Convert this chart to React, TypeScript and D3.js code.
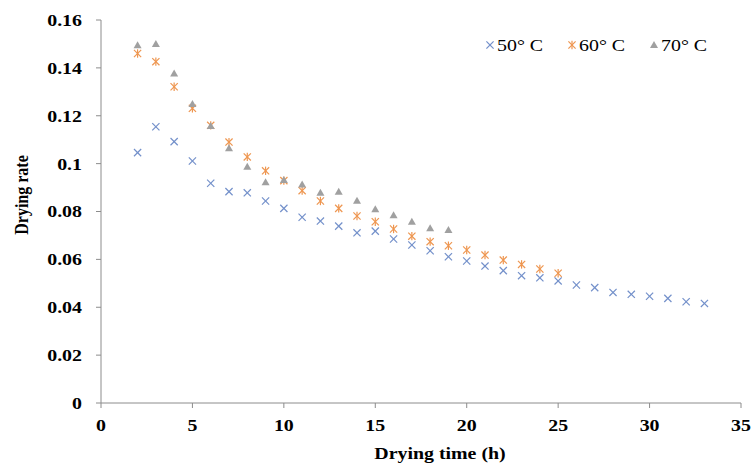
import React from "react";
import * as d3 from "d3";

const times50 = d3.range(2, 34);
const rate50 = [0.1046, 0.1154, 0.1092, 0.1011, 0.0918, 0.0883, 0.0878, 0.0844, 0.0813, 0.0776, 0.076, 0.0739, 0.0711, 0.0718, 0.0685, 0.066, 0.0636, 0.0611, 0.0593, 0.0572, 0.0553, 0.0532, 0.0523, 0.051, 0.0493, 0.0482, 0.0462, 0.0454, 0.0446, 0.0437, 0.0423, 0.0416];
const times60 = d3.range(2, 26);
const rate60 = [0.146, 0.1426, 0.1321, 0.1231, 0.116, 0.109, 0.1028, 0.097, 0.0929, 0.0887, 0.0844, 0.0813, 0.0781, 0.0757, 0.0727, 0.0697, 0.0674, 0.0657, 0.0639, 0.0618, 0.0597, 0.0579, 0.056, 0.0542];
const times70 = d3.range(2, 20);
const rate70 = [0.1495, 0.15, 0.1377, 0.1249, 0.1157, 0.1064, 0.0987, 0.0922, 0.0932, 0.0913, 0.0878, 0.0883, 0.0845, 0.0809, 0.0784, 0.0757, 0.073, 0.0723];

const seriesNames = ["50° C", "60° C", "70° C"];
const xTicks = [0, 5, 10, 15, 20, 25, 30, 35];
const yTicks = [0, 0.02, 0.04, 0.06, 0.08, 0.1, 0.12, 0.14, 0.16];

const COLORS = ["#7390CA", "#EE9650", "#A0A0A0"];
const AXIS = "#8C8C8C";
const FONT = "'Liberation Serif', 'Times New Roman', serif";
const SX = 1.17;

function Marker({ kind, cx, cy }: { kind: number; cx: number; cy: number }) {
  const r = 3.6;
  if (kind === 0) {
    return (
      <g stroke={COLORS[0]} strokeWidth={1.2}>
        <line x1={cx - r} y1={cy - r} x2={cx + r} y2={cy + r} />
        <line x1={cx - r} y1={cy + r} x2={cx + r} y2={cy - r} />
      </g>
    );
  }
  if (kind === 1) {
    return (
      <g stroke={COLORS[1]} strokeWidth={1.2}>
        <line x1={cx - r} y1={cy - r} x2={cx + r} y2={cy + r} />
        <line x1={cx - r} y1={cy + r} x2={cx + r} y2={cy - r} />
        <line x1={cx} y1={cy - r - 0.6} x2={cx} y2={cy + r + 0.6} />
      </g>
    );
  }
  const s = 4;
  return (
    <path
      d={`M${cx},${cy - s} L${cx + s},${cy + s * 0.75} L${cx - s},${cy + s * 0.75} Z`}
      fill={COLORS[2]}
    />
  );
}

export default function App() {
  const x = d3.scaleLinear().domain([0, 35]).range([101, 741]);
  const y = d3.scaleLinear().domain([0, 0.16]).range([403, 20]);

  const series = [
    { t: times50, v: rate50 },
    { t: times60, v: rate60 },
    { t: times70, v: rate70 },
  ];

  const legendX = [490, 572, 654];
  const legendY = 45;

  return (
    <svg
      width={755}
      height={470}
      style={{ position: "absolute", left: 0, top: 0, background: "#fff" }}
      fontFamily={FONT}
    >
      <rect x={0} y={0} width={755} height={470} fill="#fff" />
      <line x1={x(0)} y1={y(0.16)} x2={x(0)} y2={y(0)} stroke={AXIS} strokeWidth={1} />
      <line x1={x(0)} y1={y(0)} x2={x(35)} y2={y(0)} stroke={AXIS} strokeWidth={1} />
      {yTicks.map((v) => (
        <g key={"y" + v}>
          <line x1={x(0) - 5} x2={x(0)} y1={y(v)} y2={y(v)} stroke={AXIS} />
          <text
            transform={`translate(82,${y(v)}) scale(${SX},1)`}
            dy="0.35em"
            textAnchor="end"
            fontWeight="bold"
            fontSize={17}
            fill="#000"
          >
            {String(+v.toFixed(2))}
          </text>
        </g>
      ))}
      {xTicks.map((v) => (
        <g key={"x" + v}>
          <line x1={x(v)} x2={x(v)} y1={y(0)} y2={y(0) + 5} stroke={AXIS} />
          <text
            transform={`translate(${x(v)},431) scale(${SX},1)`}
            textAnchor="middle"
            fontWeight="bold"
            fontSize={17}
            fill="#000"
          >
            {v}
          </text>
        </g>
      ))}
      <text
        transform={`translate(440,459) scale(${SX},1)`}
        textAnchor="middle"
        fontWeight="bold"
        fontSize={17}
        fill="#000"
      >
        Drying time (h)
      </text>
      <text
        transform={`translate(28,195) rotate(-90) scale(1,${SX})`}
        textAnchor="middle"
        fontWeight="bold"
        fontSize={16}
        fill="#000"
      >
        Drying rate
      </text>
      {series.map((s, k) => (
        <g key={"s" + k}>
          {s.t.map((t, i) => (
            <Marker key={i} kind={k} cx={x(t)} cy={y(s.v[i])} />
          ))}
        </g>
      ))}
      {seriesNames.map((n, k) => (
        <g key={"l" + k}>
          <Marker kind={k} cx={legendX[k]} cy={legendY} />
          <text
            transform={`translate(${legendX[k] + 7},${legendY}) scale(${SX},1)`}
            dy="0.35em"
            fontSize={17}
            fill="#000"
          >
            {n}
          </text>
        </g>
      ))}
    </svg>
  );
}
